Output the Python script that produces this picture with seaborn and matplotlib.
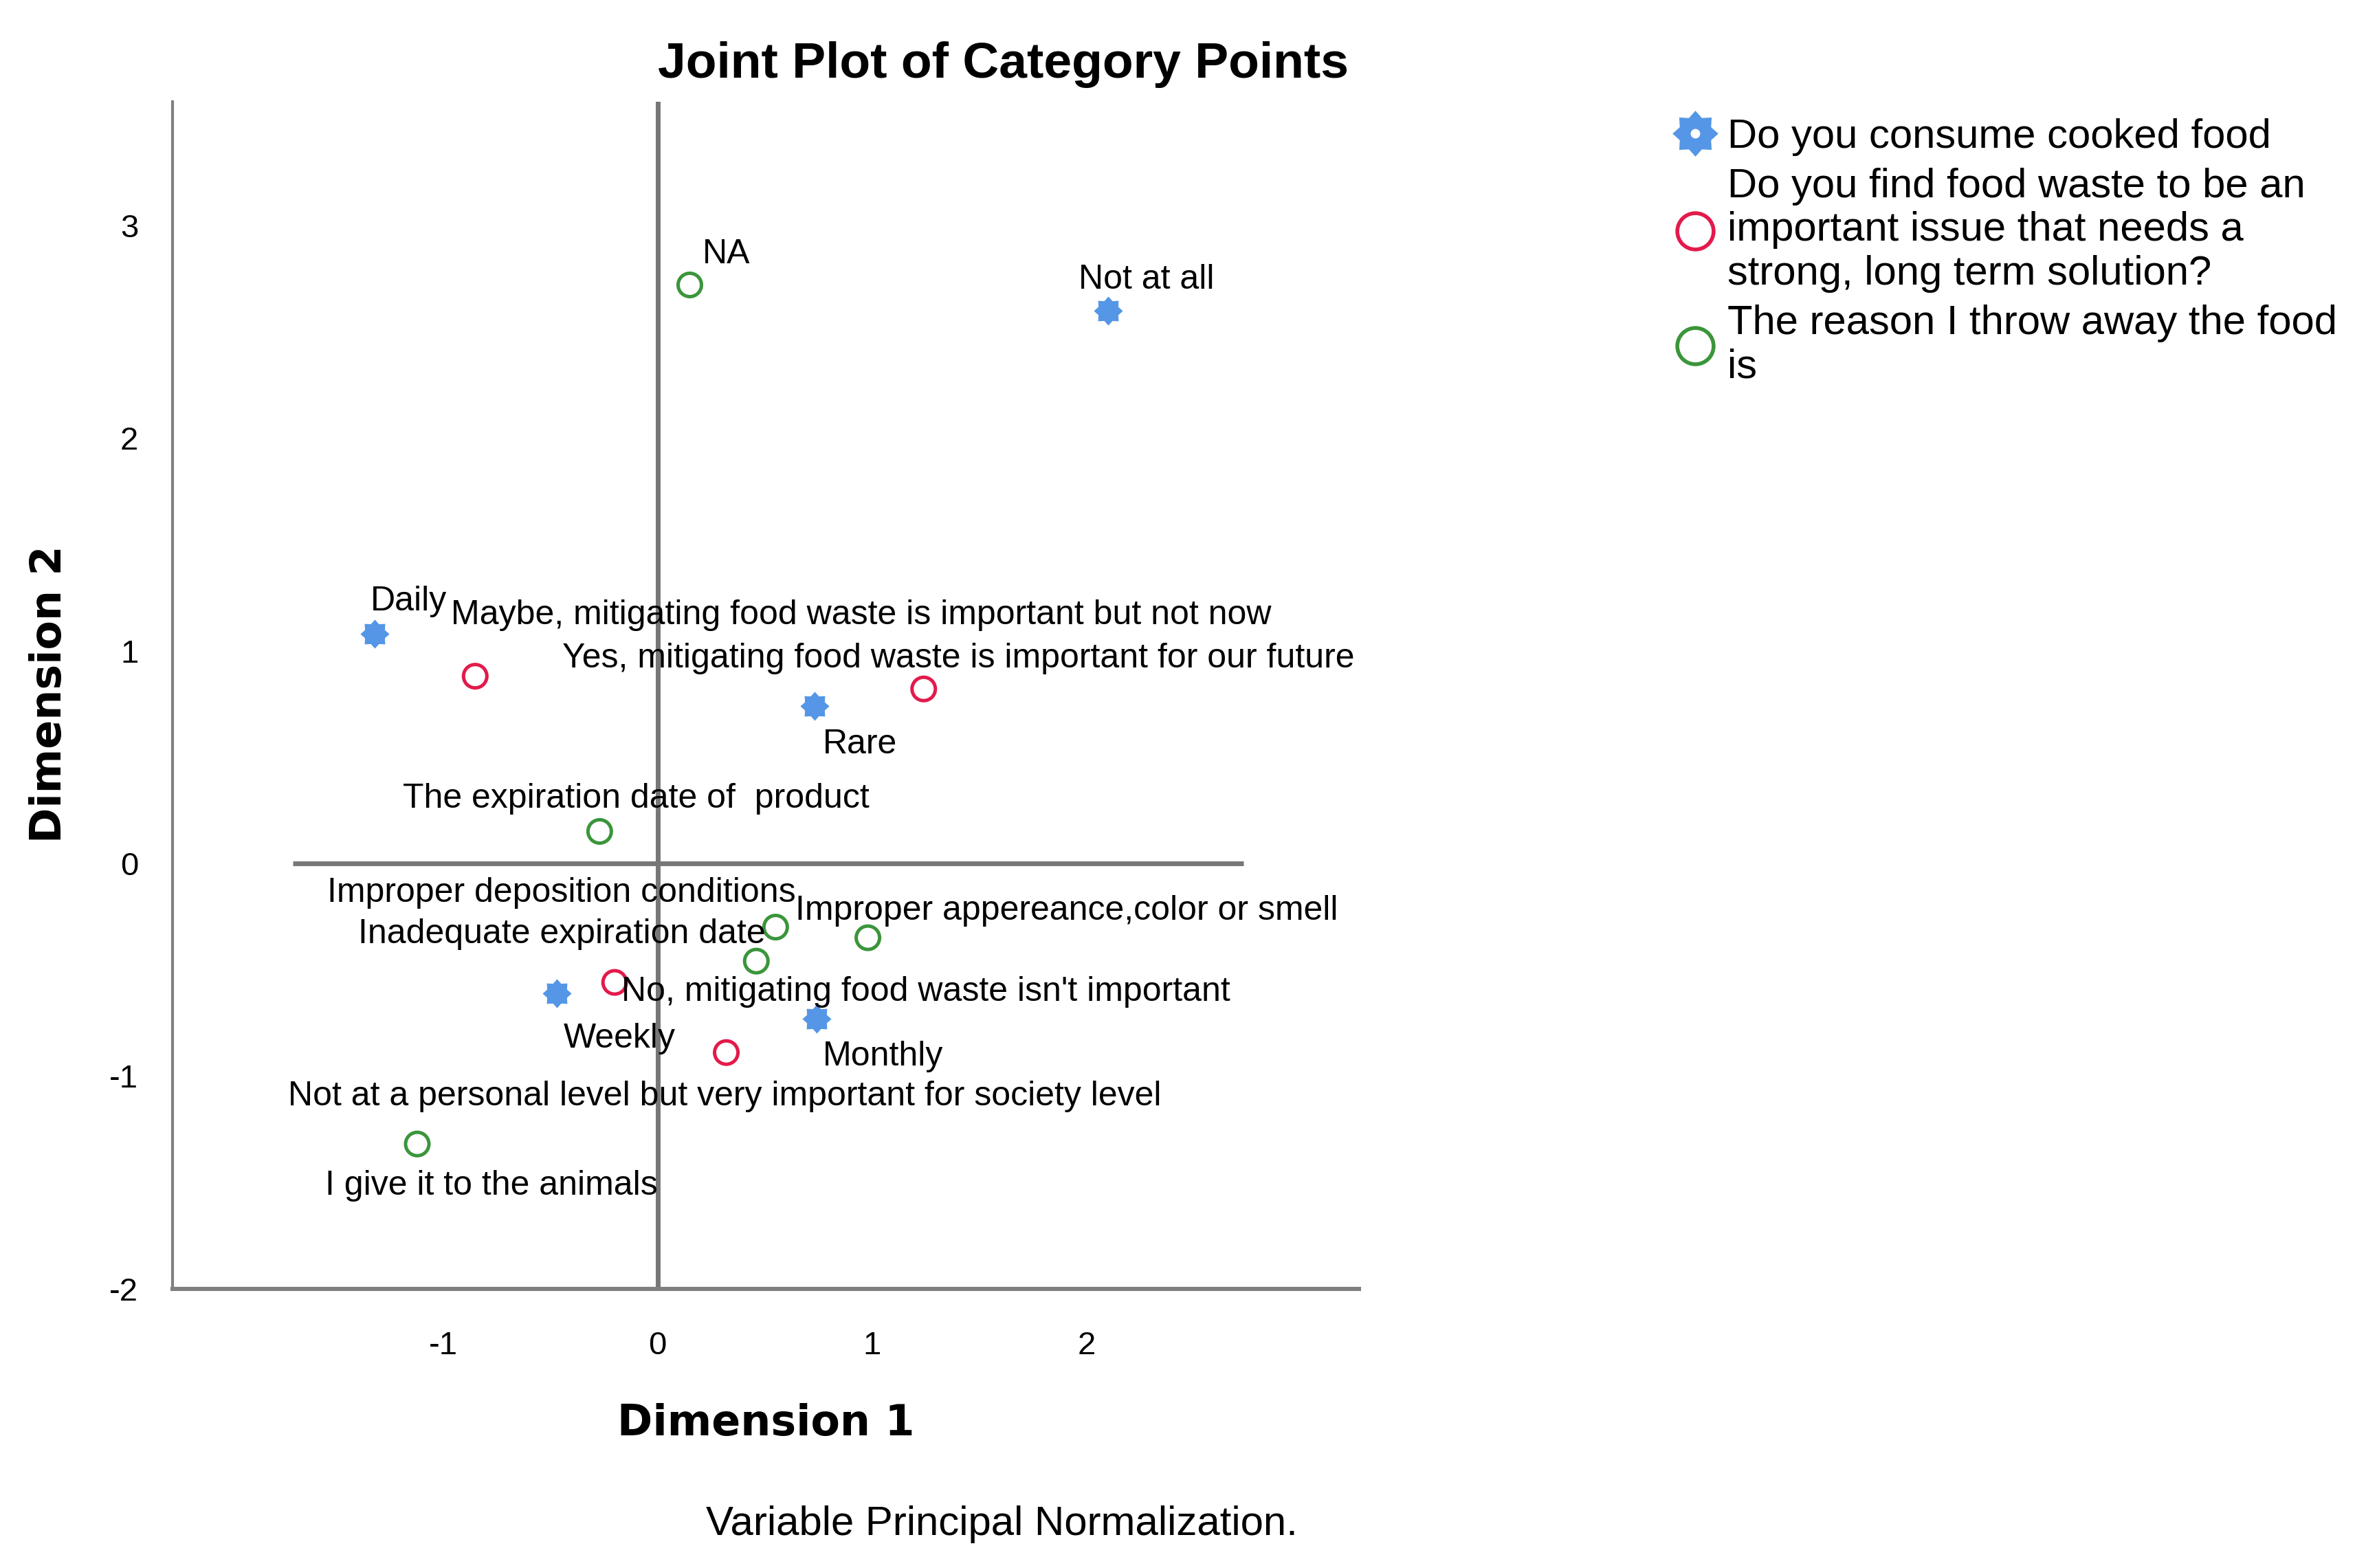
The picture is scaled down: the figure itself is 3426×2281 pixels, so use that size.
import numpy as np
import pandas as pd
import matplotlib
matplotlib.use("Agg")
import matplotlib.pyplot as plt
from matplotlib.lines import Line2D
import seaborn as sns

# Category points
groups = ["Do you consume cooked food",
          "Do you find food waste to be an\nimportant issue that needs a\nstrong, long term solution?",
          "The reason I throw away the food\nis"]

cooked_labels = ["Not at all", "Daily", "Rare", "Weekly", "Monthly"]
cooked_x = [2.10, -1.32, 0.73, -0.47, 0.74]
cooked_y = [2.60, 1.08, 0.74, -0.61, -0.73]

issue_labels = ["Maybe, mitigating food waste is important but not now",
                "Yes, mitigating food waste is important for our future",
                "No, mitigating food waste isn't important",
                "Not at a personal level but very important for society level"]
issue_x = [-0.85, 1.24, -0.20, 0.32]
issue_y = [0.88, 0.82, -0.56, -0.89]

reason_labels = ["NA", "The expiration date of  product", "Improper deposition conditions",
                 "Improper appereance,color or smell", "Inadequate expiration date",
                 "I give it to the animals"]
reason_x = [0.15, -0.27, 0.55, 0.98, 0.46, -1.12]
reason_y = [2.72, 0.15, -0.30, -0.35, -0.46, -1.32]

# label offsets in points (text centre relative to point)
cooked_off = [(20, 16), (18, 17), (24, -20), (33, -24), (35, -20)]
issue_off = [(202, 32), (18, 16), (163, -5), (-1, -23)]
reason_off = [(19, 16), (19, 17), (-112, 18), (104, 14), (-102, 14), (39, -22)]

colors = ["#5596e6", "#e31a4b", "#3b953b"]

df = pd.concat([
    pd.DataFrame({"x": cooked_x, "y": cooked_y, "label": cooked_labels, "group": groups[0]}),
    pd.DataFrame({"x": issue_x, "y": issue_y, "label": issue_labels, "group": groups[1]}),
    pd.DataFrame({"x": reason_x, "y": reason_y, "label": reason_labels, "group": groups[2]}),
], ignore_index=True)
offsets = cooked_off + issue_off + reason_off

# gear-like marker for the first variable
ang = np.arange(16) * np.pi / 8 + np.pi / 2
rad = np.where(np.arange(16) % 2 == 0, 1.0, 0.74)
gear = np.column_stack([rad * np.cos(ang), rad * np.sin(ang)])

sns.set_style("white")
plt.rcParams["font.family"] = ["Liberation Sans", "DejaVu Sans"]
plt.rcParams["axes.unicode_minus"] = False
for k in ["text.color", "axes.labelcolor", "xtick.color", "ytick.color"]:
    plt.rcParams[k] = "black"

fig = plt.figure(figsize=(17.13, 11.405), dpi=200)
ax = fig.add_axes([0.0733, 0.1782, 0.5039, 0.7567])

# zero reference lines
ax.axvline(0, color="#777777", lw=2.5, zorder=1)
ax.hlines(0, -1.70, 2.73, color="#777777", lw=2.5, zorder=1)

sns.scatterplot(data=df[df.group == groups[0]], x="x", y="y", marker=gear, s=230,
                color=colors[0], edgecolor=colors[0], linewidth=0, ax=ax, zorder=3)
sns.scatterplot(data=df[df.group == groups[1]], x="x", y="y", marker="o", s=150,
                facecolor="none", edgecolor=colors[1], linewidth=1.8, ax=ax, zorder=3)
sns.scatterplot(data=df[df.group == groups[2]], x="x", y="y", marker="o", s=150,
                facecolor="none", edgecolor=colors[2], linewidth=1.8, ax=ax, zorder=3)

for (i, row), off in zip(df.iterrows(), offsets):
    ax.annotate(row["label"], (row["x"], row["y"]), xytext=off, textcoords="offset points",
                ha="center", va="center", fontsize=18, color="black", zorder=4)

ax.set_xlim(-2.26, 3.27)
ax.set_ylim(-2.0, 3.58)
ax.set_xticks([-1, 0, 1, 2])
ax.set_yticks([-2, -1, 0, 1, 2, 3])
ax.tick_params(axis="both", length=0, labelsize=17)
ax.tick_params(axis="x", pad=22)
ax.tick_params(axis="y", pad=18)

for s in ["top", "right"]:
    ax.spines[s].set_visible(False)
ax.spines["left"].set_color("#808080")
ax.spines["left"].set_linewidth(1.5)
ax.spines["bottom"].set_color("#808080")
ax.spines["bottom"].set_linewidth(2.2)

ax.set_xlabel("Dimension 1", fontsize=22.3, fontweight="bold", family="DejaVu Sans", va="center")
ax.set_ylabel("Dimension 2", fontsize=22.3, fontweight="bold", family="DejaVu Sans", va="center")
ax.xaxis.set_label_coords(0.5, -0.114)
ax.yaxis.set_label_coords(-0.104, 0.501)

fig.text(0.426, 0.959, "Joint Plot of Category Points", ha="center", va="center",
         fontsize=26.4, fontweight="bold")
fig.text(0.4254, 0.0278, "Variable Principal Normalization.", ha="center", va="center",
         fontsize=21.6)

# legend
h_gear = Line2D([], [], ls="none", marker=gear, markersize=24, color=colors[0], mew=0)
h_hole = Line2D([], [], ls="none", marker="o", markersize=5, color="white", mew=0)
h_red = Line2D([], [], ls="none", marker="o", markersize=19, mfc="none", mec=colors[1], mew=2)
h_green = Line2D([], [], ls="none", marker="o", markersize=19, mfc="none", mec=colors[2], mew=2)
fig.legend([(h_gear, h_hole), h_red, h_green], groups, loc="upper left",
           bbox_to_anchor=(0.704, 0.935), frameon=False, fontsize=21.5,
           handlelength=1.0, handletextpad=0.3, labelspacing=0.28, borderaxespad=0)

fig.savefig("out.png", dpi=200, facecolor="white")
